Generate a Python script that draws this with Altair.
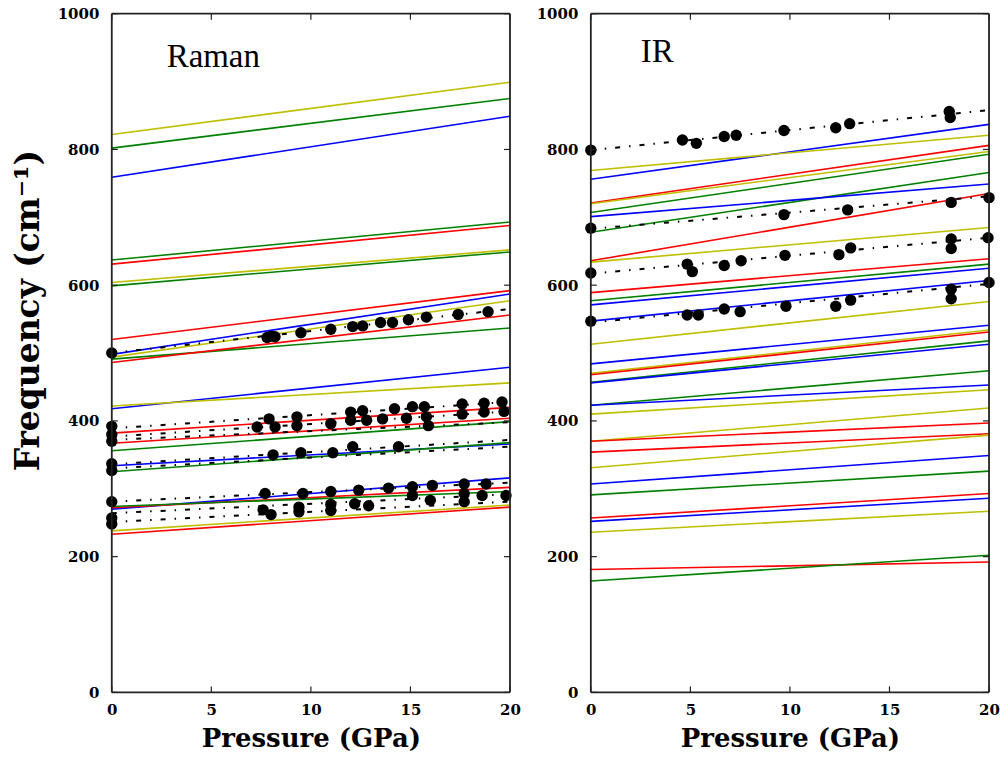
import altair as alt
import pandas as pd

# Calculated mode frequencies (cm^-1) at 0 and 20 GPa, one entry per mode
RAMAN_LINE_COLORS = ["y", "g", "b", "g", "r", "y", "g", "r", "b", "y", "g", "r",
                     "b", "y", "r", "r", "g", "b", "g", "b", "r", "g", "y", "r"]
RAMAN_LINE_F0 = [822, 802, 759, 637, 631, 604, 599, 520, 498, 494, 491, 486,
                 418, 422, 382, 367, 356, 334, 325, 270, 272, 274, 238, 233]
RAMAN_LINE_F20 = [899, 875, 849, 693, 688, 652, 649, 592, 587, 577, 537, 556,
                  479, 456, 420, 404, 399, 366, 368, 316, 302, 296, 276, 273]

IR_LINE_COLORS = ["b", "y", "r", "y", "g", "g", "b", "r", "y", "r", "g", "b",
                  "b", "y", "b", "y", "r", "g", "b", "g", "b", "y", "y", "r",
                  "r", "y", "b", "g", "r", "b", "y", "r", "g"]
IR_LINE_F0 = [756, 769, 721, 720, 707, 678, 701, 636, 634, 589, 577, 571,
              547, 513, 484, 470, 468, 457, 456, 423, 423, 410, 370, 370,
              354, 331, 307, 291, 257, 252, 236, 181, 164]
IR_LINE_F20 = [837, 821, 806, 797, 793, 766, 749, 735, 685, 639, 631, 625,
               607, 576, 541, 534, 531, 518, 513, 474, 453, 446, 419, 397,
               381, 379, 349, 326, 293, 286, 267, 192, 202]

# Linear fits to the measured frequencies (dash-dot), at 0 and 20 GPa
RAMAN_FIT_F0 = [500, 389, 377, 372, 336, 330, 281, 264, 251]
RAMAN_FIT_F20 = [565, 428, 414, 398, 372, 362, 309, 292, 281]
IR_FIT_F0 = [799, 683, 617, 545]
IR_FIT_F20 = [858, 731, 670, 602]

# Measured frequencies
RAMAN_DOT_P = [0, 7.8, 8.0, 8.2, 9.5, 11.0, 12.1, 12.6, 13.5, 14.1, 14.9, 15.8, 17.4, 18.9,
               0, 0, 0, 7.9, 9.3, 12.0, 12.6, 14.2, 15.1, 15.7, 17.6, 18.7, 19.6,
               7.3, 8.2, 9.3, 11.0, 12.0, 12.8, 13.6, 14.8, 15.8, 17.6, 18.7, 19.7, 15.9,
               0, 0, 8.1, 9.5, 11.1, 12.1, 14.4,
               0, 7.7, 9.6, 11.0, 12.4, 13.9, 15.1, 16.1, 17.7, 18.8,
               0, 0, 7.6, 9.4, 11.0, 12.2, 15.1, 17.7, 18.6, 19.8,
               8.0, 9.4, 11.0, 12.9, 16.0, 17.7]
RAMAN_DOT_F = [500, 523, 525, 524, 530, 535, 539, 540, 545, 545, 549, 553, 557, 561,
               392, 380, 370, 403, 406, 413, 415, 418, 421, 421, 425, 426, 428,
               391, 391, 393, 396, 401, 401, 403, 404, 406, 410, 413, 414, 393,
               337, 327, 350, 353, 353, 362, 362,
               281, 293, 293, 296, 298, 301, 303, 305, 307, 307,
               257, 248, 269, 273, 277, 278, 290, 293, 290, 290,
               262, 266, 268, 275, 283, 281]

IR_DOT_P = [0, 4.6, 5.3, 6.7, 7.3, 9.7, 12.3, 13.0, 18.0, 18.05,
            0, 9.7, 12.9, 18.1, 20,
            0, 4.84, 5.1, 6.7, 7.55, 9.75, 12.46, 13.05, 18.1, 18.1, 19.95,
            0, 4.84, 5.4, 6.7, 7.5, 9.8, 12.3, 13.05, 18.1, 18.1, 20]
IR_DOT_F = [799, 814, 809, 819, 821, 828, 832, 838, 856, 847,
            684, 704, 711, 722, 729,
            618, 631, 620, 629, 636, 644, 645, 655, 668, 654, 670,
            547, 556, 556, 565, 561, 569, 569, 578, 594, 580, 604]

P_ENDS = [0, 20]
P_TICKS = [0, 5, 10, 15, 20]
F_TICKS = [0, 200, 400, 600, 800, 1000]

COLOR_KEYS = ["b", "g", "r", "y"]
COLOR_VALUES = ["#0000ff", "#008000", "#ff0000", "#bfbf00"]

PANEL_W = 399
PANEL_H = 680
TICK_LEN = 6
FRAME_COLOR = "#222222"


def line_table(f0, f20, colors=None):
    rows = []
    for i, (a, b) in enumerate(zip(f0, f20)):
        for p, f in zip(P_ENDS, (a, b)):
            row = {"line": i, "P": p, "f": f}
            if colors is not None:
                row["c"] = colors[i]
            rows.append(row)
    return pd.DataFrame(rows)


def panel(name, colors, f0, f20, fit0, fit20, dot_p, dot_f, y_title, name_x, name_y):
    x_enc = alt.X(
        "P:Q",
        scale=alt.Scale(domain=[0, 20], nice=False, zero=False),
        axis=alt.Axis(values=P_TICKS, title="Pressure (GPa)", labelPadding=10,
                      titlePadding=8, titleFontSize=26, format="d"),
    )
    y_axis = dict(values=F_TICKS, title=y_title, labelPadding=13, format="d")
    if y_title:
        y_axis.update(titleFontSize=33, titleAngle=270, titleX=-83, titleY=297,
                      titleAlign="center", titleBaseline="middle")
    y_enc = alt.Y("f:Q", scale=alt.Scale(domain=[0, 1000], nice=False),
                  axis=alt.Axis(**y_axis))

    modes = alt.Chart(line_table(f0, f20, colors)).mark_line(strokeWidth=1.6).encode(
        x=x_enc, y=y_enc,
        color=alt.Color("c:N", scale=alt.Scale(domain=COLOR_KEYS, range=COLOR_VALUES),
                        legend=None),
        detail="line:N",
    )
    fits = alt.Chart(line_table(fit0, fit20)).mark_line(
        color="black", strokeWidth=2, strokeDash=[5, 9, 1.5, 9]
    ).encode(x=x_enc, y=y_enc, detail="line:N")
    dots = alt.Chart(pd.DataFrame({"P": dot_p, "f": dot_f})).mark_circle(
        color="black", size=130, opacity=1
    ).encode(x=x_enc, y=y_enc)

    xt = pd.DataFrame({"P": P_TICKS})
    yt = pd.DataFrame({"f": F_TICKS})
    tick_style = dict(color=FRAME_COLOR, strokeWidth=1.2)
    ticks_bottom = alt.Chart(xt).mark_rule(**tick_style).encode(
        x=x_enc, y=alt.value(PANEL_H), y2=alt.value(PANEL_H - TICK_LEN))
    ticks_top = alt.Chart(xt).mark_rule(**tick_style).encode(
        x=x_enc, y=alt.value(0), y2=alt.value(TICK_LEN))
    ticks_left = alt.Chart(yt).mark_rule(**tick_style).encode(
        y=y_enc, x=alt.value(0), x2=alt.value(TICK_LEN))
    ticks_right = alt.Chart(yt).mark_rule(**tick_style).encode(
        y=y_enc, x=alt.value(PANEL_W - TICK_LEN), x2=alt.value(PANEL_W))

    # axes box
    box = pd.DataFrame({"side": [0]})
    frame_style = dict(color=FRAME_COLOR, strokeWidth=1.8)
    frame = [
        alt.Chart(box).mark_rule(**frame_style).encode(
            x=alt.value(0), x2=alt.value(PANEL_W), y=alt.value(0)),
        alt.Chart(box).mark_rule(**frame_style).encode(
            x=alt.value(0), x2=alt.value(PANEL_W), y=alt.value(PANEL_H)),
        alt.Chart(box).mark_rule(**frame_style).encode(
            y=alt.value(0), y2=alt.value(PANEL_H), x=alt.value(0)),
        alt.Chart(box).mark_rule(**frame_style).encode(
            y=alt.value(0), y2=alt.value(PANEL_H), x=alt.value(PANEL_W)),
    ]

    label = alt.Chart(pd.DataFrame({"name": [name]})).mark_text(
        font="Liberation Serif", fontSize=33, align="left", baseline="alphabetic",
        color="black"
    ).encode(text="name:N", x=alt.value(name_x), y=alt.value(name_y))

    return alt.layer(modes, fits, dots, ticks_bottom, ticks_top, ticks_left,
                     ticks_right, *frame, label).properties(width=PANEL_W, height=PANEL_H)


raman = panel("Raman", RAMAN_LINE_COLORS, RAMAN_LINE_F0, RAMAN_LINE_F20,
              RAMAN_FIT_F0, RAMAN_FIT_F20, RAMAN_DOT_P, RAMAN_DOT_F,
              "Frequency (cm⁻¹)", 55, 53)
ir = panel("IR", IR_LINE_COLORS, IR_LINE_F0, IR_LINE_F20,
           IR_FIT_F0, IR_FIT_F20, IR_DOT_P, IR_DOT_F, "", 50, 48)

chart = alt.hconcat(raman, ir, spacing=81, bounds="flush").properties(
    padding={"left": 13, "top": 6, "right": 3, "bottom": 3},
    background="white",
).configure_view(
    stroke=None
).configure_axis(
    domain=False, grid=False, ticks=False, tickSize=0,
    labelFont="DejaVu Serif", labelFontWeight="bold", labelFontSize=15,
    labelColor="black", labelFlush=False, labelOverlap=False,
    titleFont="DejaVu Serif", titleFontWeight="bold", titleColor="black",
)

chart.save("out.html", embed_options={"renderer": "svg", "actions": False})
